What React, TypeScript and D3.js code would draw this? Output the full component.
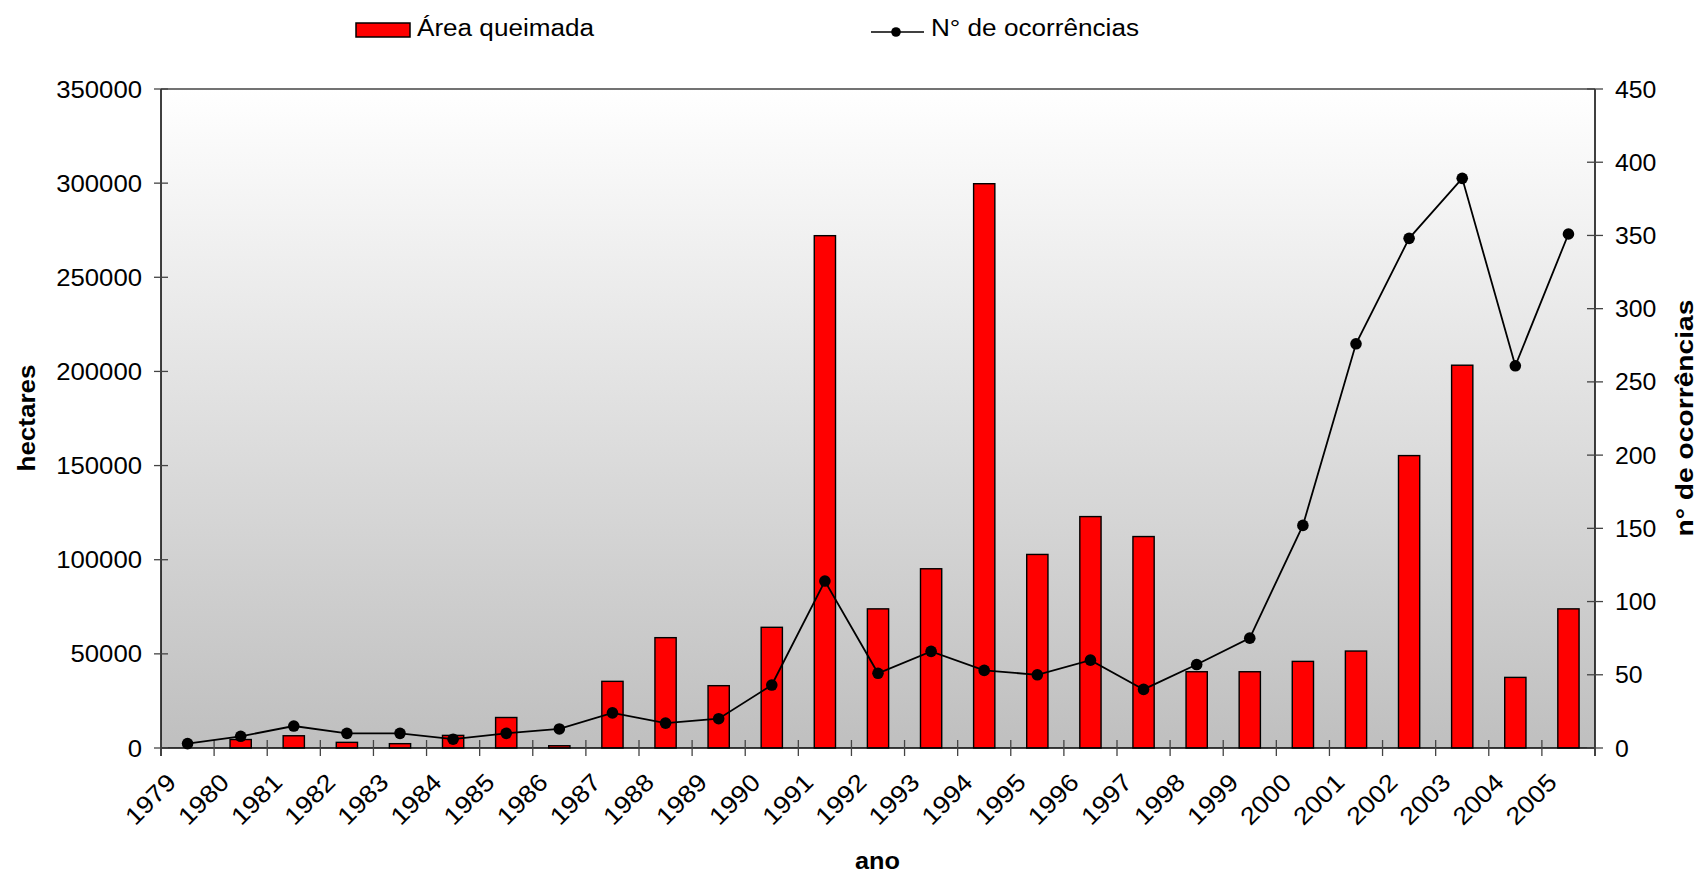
import React from 'react';
import * as d3 from 'd3';

// anos (categorias do eixo x)
const years = ['1979', '1980', '1981', '1982', '1983', '1984', '1985', '1986', '1987', '1988', '1989', '1990', '1991', '1992', '1993', '1994', '1995', '1996', '1997', '1998', '1999', '2000', '2001', '2002', '2003', '2004', '2005'];

// área queimada (hectares) - barras
const areaQueimada = [0, 4500, 6500, 3000, 2300, 6700, 16200, 1200, 35400, 58600, 33100, 64100, 272100, 73900, 95200, 299700, 102800, 122900, 112300, 40500, 40500, 46000, 51500, 155300, 203300, 37500, 73900];

// nº de ocorrências - linha
const ocorrencias = [3, 8, 15, 10, 10, 6, 10, 13, 24, 17, 20, 43, 114, 51, 66, 53, 50, 60, 40, 57, 75, 152, 276, 348, 389, 261, 351];

const leftTicks = [0, 50000, 100000, 150000, 200000, 250000, 300000, 350000];
const rightTicks = [0, 50, 100, 150, 200, 250, 300, 350, 400, 450];

const FONT = '"Liberation Sans", Arial, sans-serif';

export default function App() {
	const margin = { left: 161, right: 1595, top: 89, bottom: 748 };

	const x = d3.scaleBand<string>()
		.domain(years)
		.range([margin.left, margin.right])
		.paddingInner(0)
		.paddingOuter(0);

	const yLeft = d3.scaleLinear().domain([0, 350000]).range([margin.bottom, margin.top]);
	const yRight = d3.scaleLinear().domain([0, 450]).range([margin.bottom, margin.top]);

	const bw = x.bandwidth();
	const barW = bw * 0.4;
	const cx = (y: string) => (x(y) as number) + bw / 2;

	const line = d3.line<number>()
		.x((d, i) => cx(years[i]))
		.y(d => yRight(d));

	// limites das categorias para os ticks do eixo x
	const boundaries = years.map(y => x(y) as number).concat([margin.right]);

	const digitW = 14.3;

	return (
		<svg width={1700} height={875} style={{ position: 'absolute', left: 0, top: 0, display: 'block' }}
			fontFamily={FONT}>
			<defs>
				<linearGradient id="bg" x1="0" y1="0" x2="0" y2="1">
					<stop offset="0" stopColor="#ffffff" />
					<stop offset="1" stopColor="#bfbfbf" />
				</linearGradient>
			</defs>
			<rect x={0} y={0} width={1700} height={875} fill="#ffffff" />

			{/* área do gráfico */}
			<rect x={margin.left} y={margin.top} width={margin.right - margin.left} height={margin.bottom - margin.top} fill="url(#bg)" />
			<line x1={margin.left} x2={margin.right} y1={margin.top} y2={margin.top} stroke="#444" strokeWidth={1.3} />

			{/* barras */}
			{areaQueimada.map((v, i) => (
				<rect key={'b' + i}
					x={cx(years[i]) - barW / 2}
					y={yLeft(v)}
					width={barW}
					height={margin.bottom - yLeft(v)}
					fill="#ff0000" stroke="#000" strokeWidth={1.4} />
			))}

			{/* eixos */}
			<line x1={margin.left} x2={margin.right} y1={margin.bottom} y2={margin.bottom} stroke="#000" strokeWidth={1.5} />
			<line x1={margin.left} x2={margin.left} y1={margin.top} y2={margin.bottom + 8} stroke="#000" strokeWidth={1.5} />
			<line x1={margin.right} x2={margin.right} y1={margin.top} y2={margin.bottom + 8} stroke="#000" strokeWidth={1.5} />

			{boundaries.map((b, i) => (
				<line key={'xt' + i} x1={b} x2={b} y1={margin.bottom - 8} y2={margin.bottom + 8} stroke="#444" strokeWidth={1.3} />
			))}

			{leftTicks.map(t => (
				<g key={'lt' + t}>
					<line x1={margin.left - 7} x2={margin.left + 7} y1={yLeft(t)} y2={yLeft(t)} stroke="#444" strokeWidth={1.3} />
					<text x={142} y={yLeft(t) + 8.5} fontSize={23.5} textAnchor="end"
						textLength={String(t).length * digitW} lengthAdjust="spacingAndGlyphs">{t}</text>
				</g>
			))}

			{rightTicks.map(t => (
				<g key={'rt' + t}>
					<line x1={margin.right - 8} x2={margin.right + 8} y1={yRight(t)} y2={yRight(t)} stroke="#444" strokeWidth={1.3} />
					<text x={1615} y={yRight(t) + 8.5} fontSize={23.5} textAnchor="start"
						textLength={String(t).length * 13.8} lengthAdjust="spacingAndGlyphs">{t}</text>
				</g>
			))}

			{/* rótulos do eixo x */}
			{years.map(y => (
				<text key={'xl' + y} transform={`translate(${cx(y) - 10},784) rotate(-45)`}
					fontSize={24.5} textAnchor="end" textLength={60} lengthAdjust="spacingAndGlyphs">{y}</text>
			))}

			{/* linha de ocorrências */}
			<path d={line(ocorrencias) || ''} fill="none" stroke="#000" strokeWidth={1.8} />
			{ocorrencias.map((v, i) => (
				<circle key={'c' + i} cx={cx(years[i])} cy={yRight(v)} r={5.8} fill="#000" />
			))}

			{/* títulos dos eixos */}
			<text transform="translate(35,418) rotate(-90)" fontSize={24} fontWeight="bold" textAnchor="middle"
				textLength={107} lengthAdjust="spacingAndGlyphs">hectares</text>
			<text transform="translate(1693,418) rotate(-90)" fontSize={24} fontWeight="bold" textAnchor="middle"
				textLength={237} lengthAdjust="spacingAndGlyphs">n° de ocorrências</text>
			<text x={877.5} y={869} fontSize={24} fontWeight="bold" textAnchor="middle"
				textLength={45} lengthAdjust="spacingAndGlyphs">ano</text>

			{/* legenda */}
			<rect x={356} y={23} width={54} height={14} fill="#ff0000" stroke="#000" strokeWidth={1.5} />
			<text x={417} y={36} fontSize={23} textLength={177} lengthAdjust="spacingAndGlyphs">Área queimada</text>
			<line x1={871} x2={924} y1={32} y2={32} stroke="#000" strokeWidth={1.6} />
			<circle cx={896} cy={32} r={4.8} fill="#000" />
			<text x={931} y={36} fontSize={23} textLength={208} lengthAdjust="spacingAndGlyphs">N° de ocorrências</text>
		</svg>
	);
}
